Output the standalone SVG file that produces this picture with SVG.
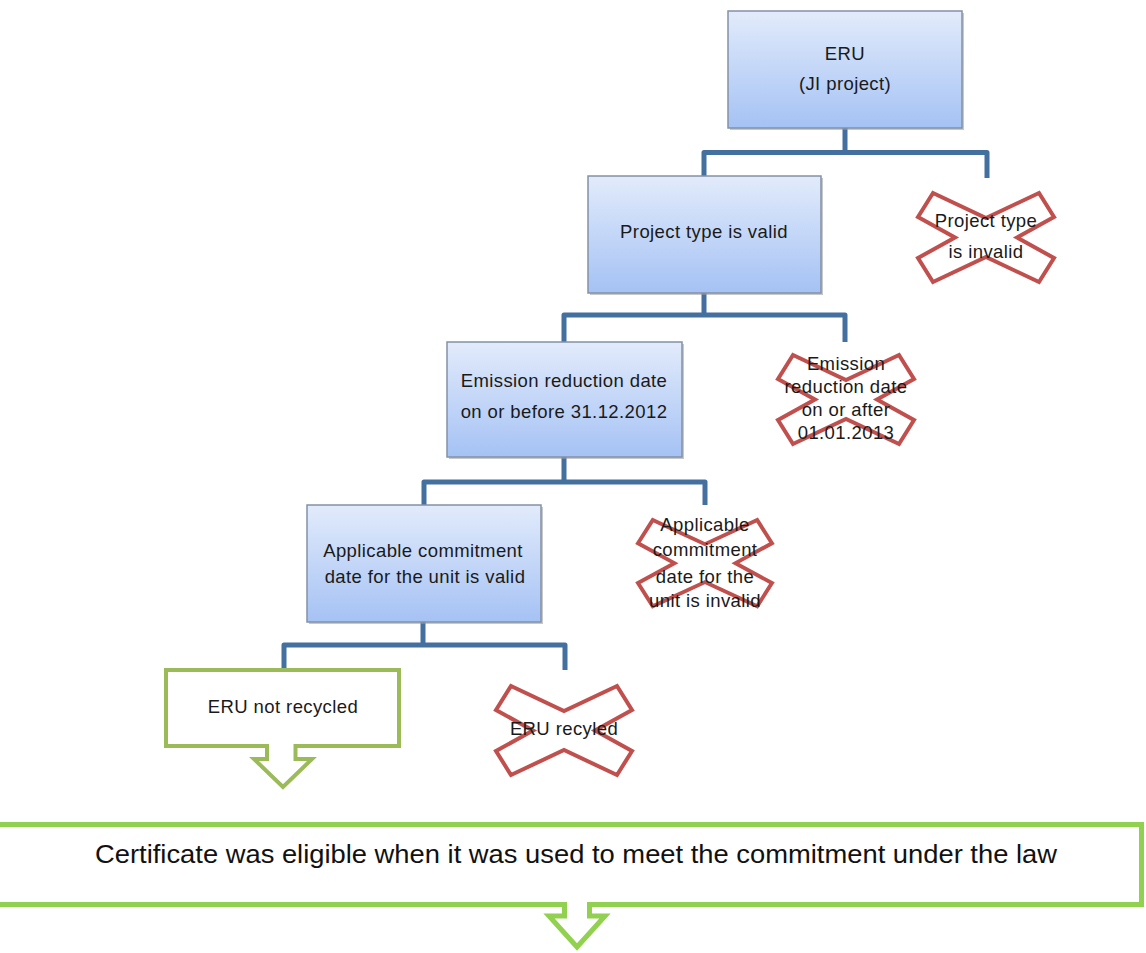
<svg xmlns="http://www.w3.org/2000/svg" xmlns:xlink="http://www.w3.org/1999/xlink" width="1146" height="953" viewBox="0 0 1146 953">
<defs>
<linearGradient id="blueGrad" x1="0" y1="0" x2="0" y2="1">
<stop offset="0" stop-color="#E2EBFB"/>
<stop offset="1" stop-color="#A5C2F4"/>
</linearGradient>
<path id="xshape" d="M16,1 L69,26 L122,1 L137,25 L100,45.5 L137,66 L122,90 L69,65 L16,90 L1,66 L38,45.5 L1,25 Z"/>
</defs>
<style>
.box{fill:url(#blueGrad);stroke:#8391A6;stroke-width:1.5}
.shadow{fill:#9A9A9A;opacity:0.55}
.t{font-family:"Liberation Sans",Arial,sans-serif;font-size:18.5px;letter-spacing:0.4px;fill:#1A1A1A;text-anchor:middle}
.conn{fill:none;stroke:#44709F;stroke-width:5;stroke-linejoin:round;stroke-linecap:butt}
.cross{fill:#FFFFFF;stroke:#C0504D;stroke-width:4;stroke-linejoin:miter}
.callout1{fill:#FFFFFF;stroke:#9BBB59;stroke-width:4}
.callout2{fill:#FFFFFF;stroke:#92D050;stroke-width:5}
</style>
<rect width="1146" height="953" fill="#FFFFFF"/>

<g id="connectors">
<path class="conn" d="M845,128 V152.5 M704,176 V152.5 H987 V178"/>
<path class="conn" d="M704,293 V315 M564,342 V315 H845 V342"/>
<path class="conn" d="M564,457 V482 M424,505 V482 H705 V505"/>
<path class="conn" d="M423,622 V645 M284,668 V645 H565 V670"/>
</g>

<g id="node-eru">
<rect class="shadow" x="730" y="13" width="234" height="117"/>
<rect class="box" x="728" y="11" width="234" height="117"/>
<text class="t" x="845" y="60">ERU</text>
<text class="t" x="845" y="90">(JI project)</text>
</g>

<g id="node-project-valid">
<rect class="shadow" x="590" y="178" width="233" height="117"/>
<rect class="box" x="588" y="176" width="233" height="117"/>
<text class="t" x="704" y="238">Project type is valid</text>
</g>

<g id="node-project-invalid">
<use xlink:href="#xshape" class="cross" transform="translate(917,192)"/>
<text class="t" x="986" y="227">Project type</text>
<text class="t" x="986" y="258">is invalid</text>
</g>

<g id="node-emission-valid">
<rect class="shadow" x="449" y="344" width="235" height="115"/>
<rect class="box" x="447" y="342" width="235" height="115"/>
<text class="t" x="564" y="387">Emission reduction date</text>
<text class="t" x="564" y="418">on or before 31.12.2012</text>
</g>

<g id="node-emission-invalid">
<use xlink:href="#xshape" class="cross" transform="translate(777,354)"/>
<text class="t" x="846" y="370">Emission</text>
<text class="t" x="846" y="393">reduction date</text>
<text class="t" x="846" y="416">on or after</text>
<text class="t" x="846" y="439">01.01.2013</text>
</g>

<g id="node-commitment-valid">
<rect class="shadow" x="309" y="507" width="234" height="117"/>
<rect class="box" x="307" y="505" width="234" height="117"/>
<text class="t" x="423" y="557">Applicable commitment</text>
<text class="t" x="425" y="583">date for the unit is valid</text>
</g>

<g id="node-commitment-invalid">
<use xlink:href="#xshape" class="cross" transform="translate(637,519) scale(0.985,0.97)"/>
<text class="t" x="705" y="531">Applicable</text>
<text class="t" x="705" y="556">commitment</text>
<text class="t" x="705" y="583">date for the</text>
<text class="t" x="705" y="607">unit is invalid</text>
</g>

<g id="node-not-recycled">
<path class="callout1" d="M166,670 H399 V746 H295.5 V759 H312 L283,787 L254,759 H267 V746 H166 Z"/>
<text class="t" x="283" y="713">ERU not recycled</text>
</g>

<g id="node-recycled">
<use xlink:href="#xshape" class="cross" transform="translate(495,685)"/>
<text class="t" x="564" y="735">ERU recyled</text>
</g>

<g id="node-eligible">
<path class="callout2" d="M-10,824.5 H1141.5 V904.5 H589.5 V916 H605 L577,947 L549,916 H564.5 V904.5 H-10 Z"/>
<text x="576" y="863" font-family="'Liberation Sans',Arial,sans-serif" font-size="25" fill="#111111" text-anchor="middle" textLength="962" lengthAdjust="spacingAndGlyphs">Certificate was eligible when it was used to meet the commitment under the law</text>
</g>
</svg>
